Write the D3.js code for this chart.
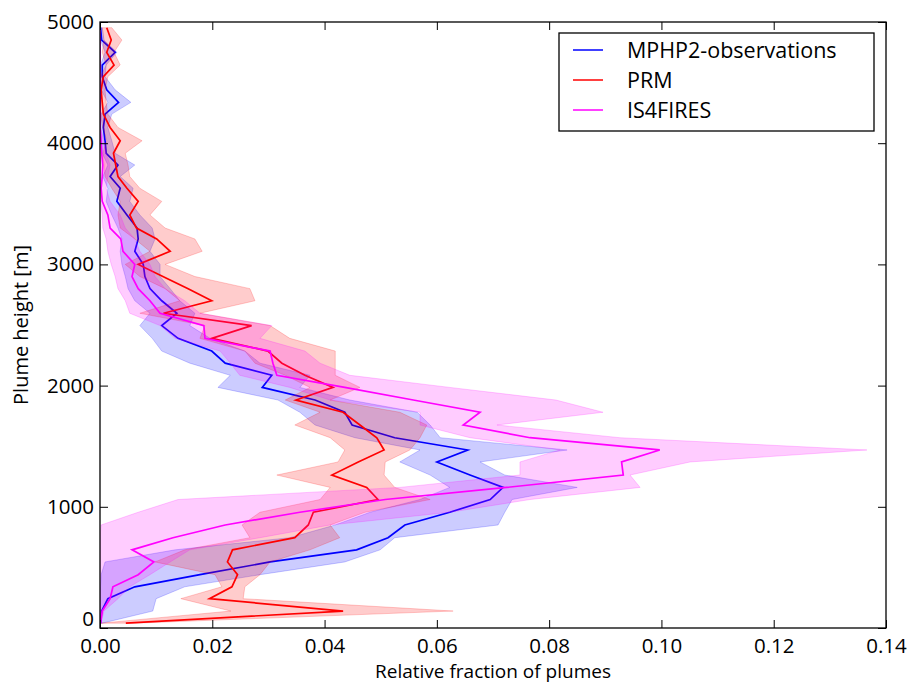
<!DOCTYPE html>
<html>
<head>
<meta charset="utf-8">
<script src="https://cdn.jsdelivr.net/npm/d3@7"></script>
<style>
  html, body { margin: 0; padding: 0; background: #fff; }
  svg text { font-family: "Open Sans", "DejaVu Sans", sans-serif; fill: #000; }
</style>
</head>
<body>
<svg id="chart" width="912" height="685"></svg>
<script>
// Plume heights (m) at which the distributions are given
const heights = [40,140,242,340,440,545,645,745,850,955,1060,1160,1262,1370,1469,1570,1675,1780,1881,1985,
  2085,2185,2285,2390,2495,2597,2700,2800,2900,3000,3108,3210,3300,3408,3520,3628,3725,3820,3917,4020,
  4130,4240,4337,4440,4549,4645,4750,4851,4953];

// MPHP2 observations: central line and spread
const obsMid = [0.0001,0.0003,0.0014,0.0062,0.0178,0.0303,0.0457,0.0513,0.0543,0.0623,0.0695,0.0718,0.0659,0.0600,0.0655,0.0525,0.0449,0.0436,0.0383,0.0289,
  0.0306,0.0223,0.0199,0.0139,0.0110,0.0137,0.0110,0.0089,0.0080,0.0077,0.0062,0.0068,0.0066,0.0048,0.0030,0.0036,0.0018,0.0032,0.0011,0.0009,
  0.0006,0.0009,0.0033,0.0012,0.0004,0.0004,0.0027,0.0003,0.0001];
const obsLow = [0,0,0,0.0001,0.0002,0.0009,0.0134,0.0338,0.0419,0.0481,0.0570,0.0623,0.0588,0.0534,0.0570,0.0454,0.0383,0.0356,0.0317,0.0210,
  0.0232,0.0160,0.0110,0.0093,0.0071,0.0089,0.0062,0.0050,0.0045,0.0039,0.0036,0.0039,0.0032,0.0021,0.0011,0.0014,0.0005,0.0014,0.0004,0.0002,
  0.0001,0.0002,0.0014,0.0002,0.0001,0.0001,0.0009,0.0001,0];
const obsHigh = [0.0004,0.0094,0.0100,0.0151,0.0285,0.0436,0.0499,0.0525,0.0709,0.0721,0.0734,0.0850,0.0721,0.0677,0.0832,0.0606,0.0588,0.0565,0.0445,0.0356,
  0.0374,0.0285,0.0258,0.0196,0.0160,0.0169,0.0142,0.0125,0.0107,0.0107,0.0089,0.0098,0.0093,0.0071,0.0053,0.0059,0.0036,0.0062,0.0027,0.0021,
  0.0014,0.0021,0.0055,0.0027,0.0009,0.0011,0.0030,0.0007,0.0004];

// PRM model
const prmMid = [0.0046,0.0433,0.0195,0.0235,0.0245,0.0227,0.0236,0.0347,0.0371,0.0380,0.0495,0.0475,0.0413,0.0460,0.0506,0.0493,0.0463,0.0433,0.0349,0.0415,
  0.0365,0.0324,0.0299,0.0199,0.0270,0.0113,0.0199,0.0157,0.0112,0.0068,0.0125,0.0101,0.0065,0.0053,0.0068,0.0048,0.0032,0.0028,0.0024,0.0036,
  0.0018,0.0006,0.0004,0.0002,0.0006,0.0025,0.0012,0.0020,0.0012];
const prmLow = [0.0002,0.0233,0.0144,0.0217,0.0205,0.0098,0.0151,0.0267,0.0253,0.0285,0.0392,0.0410,0.0315,0.0424,0.0436,0.0410,0.0347,0.0392,0.0330,0.0374,
  0.0330,0.0276,0.0258,0.0178,0.0187,0.0071,0.0142,0.0116,0.0071,0.0045,0.0089,0.0062,0.0036,0.0032,0.0036,0.0021,0.0009,0.0007,0.0005,0.0012,
  0.0005,0.0001,0.0001,0.0001,0.0001,0.0011,0.0004,0.0007,0.0004];
const prmHigh = [0.0062,0.0629,0.0255,0.0258,0.0285,0.0303,0.0374,0.0427,0.0410,0.0472,0.0588,0.0525,0.0506,0.0508,0.0552,0.0570,0.0582,0.0534,0.0410,0.0463,
  0.0419,0.0419,0.0419,0.0338,0.0303,0.0178,0.0276,0.0267,0.0169,0.0116,0.0182,0.0169,0.0116,0.0089,0.0110,0.0071,0.0053,0.0050,0.0045,0.0075,
  0.0032,0.0014,0.0011,0.0009,0.0014,0.0036,0.0025,0.0039,0.0021];

// IS4FIRES model
const isMid = [0.0001,0.0004,0.0018,0.0023,0.0068,0.0096,0.0057,0.0130,0.0223,0.0356,0.0508,0.0724,0.0932,0.0929,0.0997,0.0766,0.0647,0.0677,0.0558,0.0436,
  0.0315,0.0308,0.0303,0.0187,0.0185,0.0107,0.0089,0.0068,0.0057,0.0062,0.0041,0.0037,0.0018,0.0014,0.0004,0.0002,0.0004,0.0005,0.0003,0.0002,
  0,0,0,0,0,0,0,0,0];
const isLow = [0,0,0,0,0,0,0,0,0.0002,0.0068,0.0139,0.0534,0.0748,0.0748,0.0819,0.0659,0.0570,0.0570,0.0410,0.0338,
  0.0249,0.0232,0.0214,0.0134,0.0107,0.0053,0.0045,0.0032,0.0027,0.0020,0.0014,0.0011,0.0005,0.0004,0.0001,0.0001,0.0001,0.0001,0.0001,0.0001,
  0,0,0,0,0,0,0,0,0];
const isHigh = [0.0002,0.0007,0.0032,0.0053,0.0089,0.0125,0.0160,0.0285,0.0410,0.0623,0.0766,0.0962,0.0944,0.1051,0.1366,0.0926,0.0707,0.0896,0.0812,0.0623,
  0.0445,0.0392,0.0365,0.0285,0.0306,0.0178,0.0151,0.0116,0.0098,0.0089,0.0071,0.0062,0.0045,0.0036,0.0018,0.0011,0.0014,0.0018,0.0011,0.0007,
  0.0001,0.0001,0.0001,0.0001,0.0001,0.0001,0.0001,0.0001,0.0001];

const seriesNames = ["MPHP2-observations", "PRM", "IS4FIRES"];
const seriesColors = ["#0000ff", "#ff0000", "#ff00ff"];
const xTicks = [0, 0.02, 0.04, 0.06, 0.08, 0.10, 0.12, 0.14];
const yTicks = [0, 1000, 2000, 3000, 4000, 5000];

const series = [
  { name: seriesNames[0], color: seriesColors[0], mid: obsMid, low: obsLow, high: obsHigh },
  { name: seriesNames[1], color: seriesColors[1], mid: prmMid, low: prmLow, high: prmHigh },
  { name: seriesNames[2], color: seriesColors[2], mid: isMid, low: isLow, high: isHigh }
];

const svg = d3.select("#chart");
const margin = { left: 100, right: 26, top: 22, bottom: 57 };
const W = 912, H = 685;
const x = d3.scaleLinear().domain([0, 0.14]).range([margin.left, W - margin.right]);
const y = d3.scaleLinear().domain([0, 5000]).range([H - margin.bottom, margin.top]);

svg.append("defs").append("clipPath").attr("id", "plot-clip")
  .append("rect")
  .attr("x", x(0)).attr("y", y(5000))
  .attr("width", x(0.14) - x(0)).attr("height", y(0) - y(5000));

const plot = svg.append("g").attr("clip-path", "url(#plot-clip)");

const band = d3.area()
  .y((d, i) => y(heights[i]))
  .x0(d => x(d[0]))
  .x1(d => x(d[1]));

const line = d3.line()
  .y((d, i) => y(heights[i]))
  .x(d => x(d));

series.forEach(s => {
  const pairs = s.low.map((v, i) => [v, s.high[i]]);
  plot.append("path")
    .datum(pairs)
    .attr("d", band)
    .attr("fill", s.color)
    .attr("fill-opacity", 0.2)
    .attr("stroke", s.color)
    .attr("stroke-opacity", 0.2)
    .attr("stroke-width", 1);
  plot.append("path")
    .datum(s.mid)
    .attr("d", line)
    .attr("fill", "none")
    .attr("stroke", s.color)
    .attr("stroke-width", 1.7)
    .attr("stroke-linejoin", "miter");
});

// Axes with inward ticks on all four sides
const fmtX = d3.format(".2f");
const gx = svg.append("g")
  .attr("transform", `translate(0,${y(0)})`)
  .call(d3.axisBottom(x).tickValues(xTicks).tickFormat(fmtX).tickSize(-8).tickPadding(10));
const gxTop = svg.append("g")
  .attr("transform", `translate(0,${y(5000)})`)
  .call(d3.axisTop(x).tickValues(xTicks).tickFormat("").tickSize(-8));
const gy = svg.append("g")
  .attr("transform", `translate(${x(0)},0)`)
  .call(d3.axisLeft(y).tickValues(yTicks).tickFormat(d3.format("d")).tickSize(-8).tickPadding(6));
const gyRight = svg.append("g")
  .attr("transform", `translate(${x(0.14)},0)`)
  .call(d3.axisRight(y).tickValues(yTicks).tickFormat("").tickSize(-8));

[gx, gxTop, gy, gyRight].forEach(g => {
  g.select(".domain").remove();
  g.selectAll(".tick line").attr("stroke", "#000").attr("stroke-width", 1);
  g.selectAll(".tick text").style("font-size", "20.5px").attr("fill", "#000");
});
// the lowest height label sits just above the corner
gy.selectAll(".tick text").filter(d => d === 0).attr("dy", "-0.12em");

// Plot frame
svg.append("rect")
  .attr("x", x(0)).attr("y", y(5000))
  .attr("width", x(0.14) - x(0)).attr("height", y(0) - y(5000))
  .attr("fill", "none").attr("stroke", "#000").attr("stroke-width", 1.3);

// Axis titles
svg.append("text")
  .attr("x", (x(0) + x(0.14)) / 2).attr("y", 678)
  .attr("text-anchor", "middle")
  .style("font-size", "19px")
  .text("Relative fraction of plumes");
svg.append("text")
  .attr("transform", `translate(28,${(y(0) + y(5000)) / 2}) rotate(-90)`)
  .attr("text-anchor", "middle")
  .style("font-size", "20px")
  .text("Plume height [m]");

// Legend
const lg = svg.append("g").attr("transform", "translate(559,33)");
lg.append("rect").attr("width", 315).attr("height", 98)
  .attr("fill", "#fff").attr("stroke", "#000").attr("stroke-width", 1.3);
series.forEach((s, i) => {
  const cy = 17 + i * 30;
  lg.append("line").attr("x1", 14).attr("x2", 44).attr("y1", cy).attr("y2", cy)
    .attr("stroke", s.color).attr("stroke-width", 1.5);
  lg.append("text").attr("x", 68).attr("y", cy).attr("dy", "0.36em")
    .style("font-size", "21.5px").text(s.name);
});
</script>
</body>
</html>
